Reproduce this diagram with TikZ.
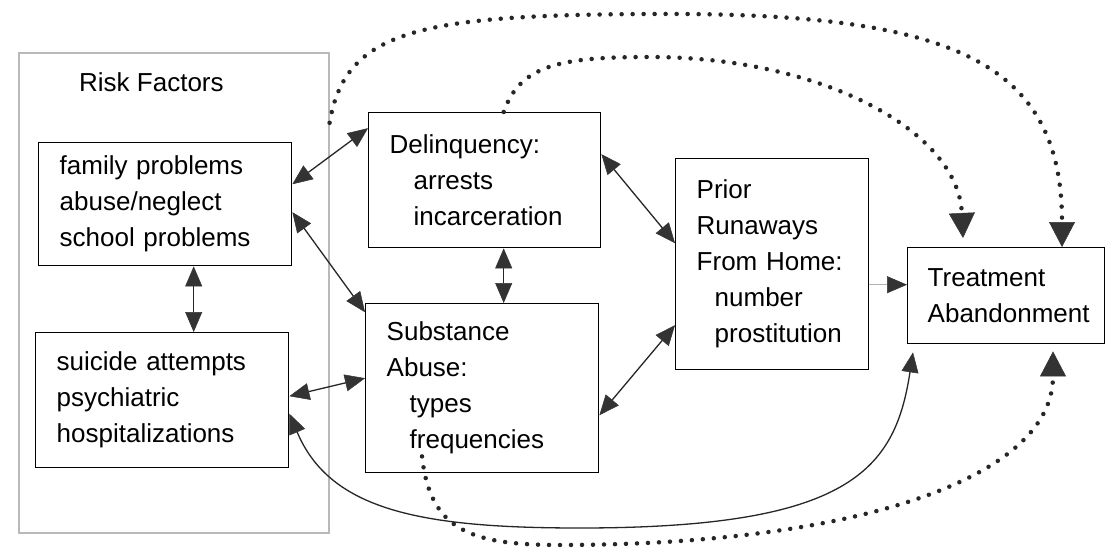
\documentclass[tikz,border=0pt]{standalone}
\usepackage{fontspec}
\setmainfont{Liberation Sans}
\usetikzlibrary{arrows.meta,calc}
\definecolor{headc}{HTML}{333333}
\begin{document}
\begin{tikzpicture}[x=1pt,y=-1pt,
  HeadS/.tip={Triangle[length=20pt,width=17pt,color=headc,fill=headc,line width=0.5pt]},
  HeadL/.tip={Triangle[length=25pt,width=26pt,color=headc,fill=headc,line width=0.5pt]},
  txt/.style={font=\fontsize{26}{36}\selectfont},
  box/.style={draw, line width=1.4pt, anchor=north west, inner xsep=21pt, inner ysep=0pt, align=left, txt},
  link/.style={line width=1.3pt, draw=black!85, HeadS-HeadS},
  dots/.style={line width=4.5pt, line cap=round, dash pattern=on 0pt off 11pt, draw=black!85}
]
\useasboundingbox (0,0) rectangle (1110,548);
\fill[white] (0,0) rectangle (1110,548);

% frame of risk factors
\node[draw=gray!55, line width=1.6pt, anchor=north west, minimum width=310pt, minimum height=480pt, inner sep=0pt] (risk) at (18,52) {};
\node[txt, anchor=base west, inner sep=0pt] (riskt) at (79,92) {Risk Factors};

% boxes
\node[box, minimum width=253pt, text width=211pt, minimum height=123pt] (fam) at (38,142)
  {family problems\\abuse/neglect\\school problems};
\node[box, minimum width=253pt, text width=211pt, minimum height=135pt] (sui) at (35,332)
  {suicide attempts\\psychiatric\\hospitalizations};
\node[box, minimum width=232pt, text width=190pt, minimum height=135pt] (del) at (368,112)
  {Delinquency:\\\hspace*{24pt}arrests\\\hspace*{24pt}incarceration};
\node[box, minimum width=233pt, text width=191pt, minimum height=169pt] (sub) at (365,303)
  {Substance\\Abuse:\\\hspace*{23pt}types\\\hspace*{23pt}frequencies};
\node[box, minimum width=193pt, text width=151pt, minimum height=211pt] (prior) at (675,158)
  {Prior\\Runaways\\From Home:\\\hspace*{18pt}number\\\hspace*{18pt}prostitution};
\node[box, inner xsep=20pt, minimum width=197pt, text width=157pt, minimum height=96pt] (treat) at (907,247)
  {Treatment\\Abandonment};

% straight two-headed connectors
\draw[link] ([yshift=20pt]fam.east) -- ([yshift=52pt]del.west);
\draw[link] ([yshift=-8pt]fam.east) -- ([yshift=76pt]sub.west);
\draw[link] ([xshift=28.5pt]fam.south) -- ([xshift=31.5pt]sui.north);
\draw[link] ([yshift=4pt]sui.east) -- ([yshift=10pt]sub.west);
\draw[link] ([xshift=19pt]del.south) -- ([xshift=21.5pt]sub.north);
\draw[link] ([yshift=26pt]del.east) -- ([yshift=21pt]prior.west);
\draw[link] ([yshift=-27pt]sub.east) -- ([yshift=-61pt]prior.west);
\draw[gray!60, line width=1.5pt, -{HeadS}] ([yshift=-20.5pt]prior.east) -- ([yshift=11pt]treat.west);

% solid curve
\draw[link] ([yshift=-13.5pt]sui.east) .. controls (330,510) and (420,528) .. (580,528)
  .. controls (850,528) and (895,470) .. ([xshift=6pt,yshift=-8pt]treat.south west);

% dotted curves
\draw[dots, -{HeadL}] ([yshift=170pt]risk.east) .. controls (345,30) and (420,15) .. (650,14)
  .. controls (950,12) and (1062,60) .. ([xshift=155pt]treat.north west);
\draw[dots, -{HeadL}] ([xshift=19pt]del.north) .. controls (520,65) and (560,57) .. (650,57)
  .. controls (820,57) and (958,130) .. ([xshift=56pt,yshift=9pt]treat.north west);
\draw[dots, -{HeadL}] ([xshift=57pt,yshift=17pt]sub.south west) .. controls (430,530) and (470,545) .. (560,545)
  .. controls (850,545) and (1053,480) .. ([xshift=146pt,yshift=-7pt]treat.south west);
\end{tikzpicture}
\end{document}
